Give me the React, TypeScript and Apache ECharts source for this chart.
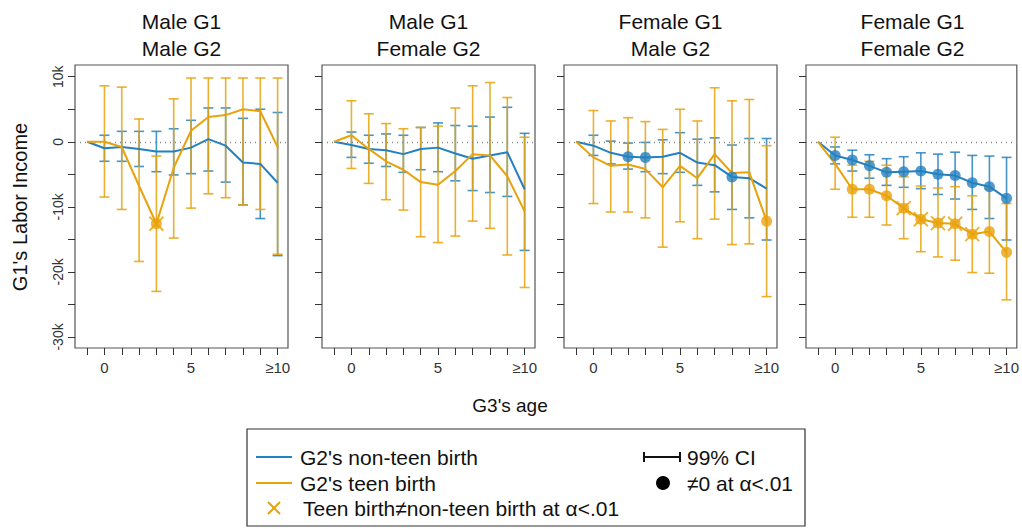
import { useEffect, useRef } from 'react';
import * as echarts from 'echarts';

const BLUE = '#2481c1';
const ORANGE = '#e8a20c';
const FONT = 'Liberation Sans, Arial, sans-serif';

const ages = [-1, 0, 1, 2, 3, 4, 5, 6, 7, 8, 9, 10];
const panelTitles = ['Male G1\nMale G2', 'Male G1\nFemale G2', 'Female G1\nMale G2', 'Female G1\nFemale G2'];

// values in thousands, index matches ages
const blueMean = [
  [0, -1.0, -0.8, -1.1, -1.5, -1.5, -0.9, 0.4, -0.6, -3.2, -3.4, -6.3],
  [0, -0.5, -1.1, -1.3, -1.9, -1.1, -0.9, -1.8, -2.6, -2.1, -1.6, -7.3],
  [0, -0.6, -1.7, -2.3, -2.4, -2.3, -1.7, -3.2, -3.6, -5.4, -5.6, -7.2],
  [0, -2.1, -2.8, -3.7, -4.7, -4.6, -4.5, -5.0, -5.2, -6.3, -6.9, -8.7],
];
const blueHi = [
  [0, 1.0, 1.6, 1.6, 1.6, 2.0, 3.3, 5.2, 5.2, 3.6, 5.0, 4.5],
  [0, 1.5, 1.0, 1.2, 1.0, 2.2, 2.9, 2.5, 2.4, 3.8, 5.3, 1.3],
  [0, 1.0, 0.1, -0.2, -0.1, 0.3, 1.4, 0.4, 0.6, -0.5, 0.5, 0.5],
  [0, -0.8, -1.3, -2.0, -2.6, -2.3, -1.7, -1.9, -1.6, -2.1, -2.2, -2.4],
];
const blueLo = [
  [0, -3.0, -3.0, -3.8, -4.6, -5.1, -4.9, -4.5, -6.2, -9.7, -11.8, -17.5],
  [0, -2.4, -3.3, -3.8, -4.7, -4.3, -4.6, -6.0, -7.5, -7.8, -8.4, -16.7],
  [0, -2.1, -3.4, -4.2, -4.6, -4.9, -4.7, -6.7, -7.7, -10.4, -11.7, -15.1],
  [0, -3.4, -4.5, -5.6, -6.7, -7.0, -7.2, -8.1, -8.8, -10.4, -11.8, -15.1],
];
// indices into ages
const blueSig = [
  [],
  [],
  [3, 4, 9],
  [1, 2, 3, 4, 5, 6, 7, 8, 9, 10, 11],
];

const orangeMean = [
  [0, 0, -0.8, -6.8, -12.6, -4.0, 1.7, 3.8, 4.1, 5.0, 4.7, -0.8],
  [0, 1.0, -1.1, -3.0, -4.3, -6.2, -6.6, -4.5, -1.9, -2.1, -5.3, -10.7],
  [0, -2.4, -3.7, -3.5, -4.2, -7.0, -3.7, -5.6, -1.9, -4.8, -4.7, -12.2],
  [0, -3.4, -7.3, -7.3, -8.3, -10.2, -11.9, -12.5, -12.6, -14.2, -13.8, -17.0],
];
const orangeHi = [
  [0, 8.6, 8.4, 3.5, -2.2, 6.6, 9.8, 9.8, 9.8, 9.8, 9.8, 9.8],
  [0, 6.3, 4.3, 2.8, 2.0, 2.2, 2.4, 5.2, 8.6, 9.1, 6.8, 0.7],
  [0, 4.8, 3.2, 3.7, 3.1, 1.9, 5.0, 3.2, 8.3, 6.3, 6.5, -0.6],
  [0, 0.7, -3.6, -3.0, -3.6, -5.4, -6.8, -7.1, -6.9, -8.3, -7.3, -9.5],
];
const orangeLo = [
  [0, -8.5, -10.4, -18.4, -23.0, -14.8, -10.2, -8.0, -8.6, -9.7, -10.4, -17.3],
  [0, -4.1, -6.4, -8.9, -10.5, -14.6, -15.5, -14.5, -12.2, -13.3, -17.4, -22.4],
  [0, -9.5, -10.8, -10.8, -11.7, -16.2, -12.3, -14.9, -11.9, -15.8, -15.7, -23.8],
  [0, -7.3, -11.6, -11.6, -12.8, -14.9, -16.9, -17.7, -18.2, -20.1, -20.2, -24.3],
];
const orangeSig = [
  [4],
  [],
  [11],
  [2, 3, 4, 5, 6, 7, 8, 9, 10, 11],
];
const diffSig = [[4], [], [], [5, 6, 7, 8, 9]];

const xLabels = [0, 5, 10];
const yTicks = [-30, -25, -20, -15, -10, -5, 0, 5, 10];
const yLabels = [-30, -20, -10, 0, 10];

const gridLefts = [75, 322, 564, 806];
const gridWidth = 213;
const gridTop = 65;
const gridHeight = 283;

const xMark = 'path://M0,0L10,10M10,0L0,10';

export default function App() {
  const ref = useRef<HTMLDivElement>(null);

  useEffect(() => {
    if (!ref.current) return;
    const chart = echarts.init(ref.current, null, { renderer: 'svg' });

    const errorBars = (lo: number[], hi: number[], color: string, gi: number, z: number) => ({
      type: 'custom',
      xAxisIndex: gi,
      yAxisIndex: gi,
      z,
      data: ages.map((a, i) => [a, lo[i], hi[i]]).filter((_, i) => i > 0),
      renderItem: (_p: any, api: any) => {
        const x = api.value(0);
        const top = api.coord([x, api.value(2)]);
        const bot = api.coord([x, api.value(1)]);
        const w = 5;
        const style = { stroke: color, lineWidth: 1.6, opacity: 0.85 };
        return {
          type: 'group',
          children: [
            { type: 'line', shape: { x1: top[0], y1: top[1], x2: bot[0], y2: bot[1] }, style },
            { type: 'line', shape: { x1: top[0] - w, y1: top[1], x2: top[0] + w, y2: top[1] }, style },
            { type: 'line', shape: { x1: bot[0] - w, y1: bot[1], x2: bot[0] + w, y2: bot[1] }, style },
          ],
        };
      },
    });

    const grids: any[] = [];
    const xAxes: any[] = [];
    const yAxes: any[] = [];
    const series: any[] = [];
    const graphics: any[] = [];

    gridLefts.forEach((left, gi) => {
      grids.push({
        left, top: gridTop, width: gridWidth, height: gridHeight,
        show: true, borderColor: '#555', borderWidth: 1.2, backgroundColor: '#fff',
      });
      xAxes.push({
        type: 'value', gridIndex: gi, min: -1.7, max: 10.6,
        axisLine: { show: false, onZero: false },
        splitLine: { show: false },
        axisTick: { show: true, customValues: ages, length: 7, lineStyle: { color: '#333' } },
        axisLabel: {
          customValues: xLabels, color: '#333', fontSize: 15, fontFamily: FONT, margin: 12,
          formatter: (v: number) => (v === 10 ? '≥10' : String(v)),
        },
      });
      yAxes.push({
        type: 'value', gridIndex: gi, min: -31.7, max: 11.8,
        axisLine: { show: false, onZero: false },
        splitLine: { show: false },
        axisTick: { show: true, customValues: yTicks, length: 7, lineStyle: { color: '#333' } },
        axisLabel: {
          show: gi === 0, customValues: yLabels, rotate: 90, color: '#333', fontSize: 14,
          fontFamily: FONT, margin: 10,
          formatter: (v: number) => (v === 0 ? '0' : v + 'k'),
        },
      });

      series.push(errorBars(blueLo[gi], blueHi[gi], BLUE, gi, 2));
      series.push(errorBars(orangeLo[gi], orangeHi[gi], ORANGE, gi, 3));
      series.push({
        type: 'line', xAxisIndex: gi, yAxisIndex: gi, z: 4,
        data: ages.map((a, i) => [a, blueMean[gi][i]]),
        showSymbol: false, lineStyle: { color: BLUE, width: 2 },
        markLine: {
          silent: true, symbol: 'none', label: { show: false },
          lineStyle: { color: '#888', type: [1, 4], width: 1.3 },
          data: [{ yAxis: 0 }],
        },
      });
      series.push({
        type: 'line', xAxisIndex: gi, yAxisIndex: gi, z: 5,
        data: ages.map((a, i) => [a, orangeMean[gi][i]]),
        showSymbol: false, lineStyle: { color: ORANGE, width: 2 },
      });
      series.push({
        type: 'scatter', xAxisIndex: gi, yAxisIndex: gi, z: 6, symbolSize: 11,
        data: blueSig[gi].map((i) => [ages[i], blueMean[gi][i]]),
        itemStyle: { color: BLUE },
      });
      series.push({
        type: 'scatter', xAxisIndex: gi, yAxisIndex: gi, z: 6, symbolSize: 11,
        data: orangeSig[gi].map((i) => [ages[i], orangeMean[gi][i]]),
        itemStyle: { color: ORANGE },
      });
      series.push({
        type: 'scatter', xAxisIndex: gi, yAxisIndex: gi, z: 7, symbol: xMark, symbolSize: 14,
        data: diffSig[gi].map((i) => [ages[i], orangeMean[gi][i]]),
        itemStyle: { color: 'none', borderColor: ORANGE, borderWidth: 2 },
      });

      const lines = panelTitles[gi].split('\n');
      lines.forEach((t, li) => {
        graphics.push({
          type: 'text', x: left + gridWidth / 2, y: 21 + li * 27,
          style: { text: t, align: 'center', verticalAlign: 'middle', fill: '#111', font: `21px ${FONT}` },
        });
      });
    });

    const txt = (x: number, y: number, text: string) => ({
      type: 'text', x, y,
      style: { text, fill: '#111', font: `21px ${FONT}`, verticalAlign: 'middle' },
    });

    graphics.push(
      {
        type: 'text', x: 20, y: 207, rotation: Math.PI / 2,
        style: { text: "G1's Labor Income", fill: '#111', font: `20px ${FONT}`, align: 'center', verticalAlign: 'middle' },
      },
      {
        type: 'text', x: 510, y: 405,
        style: { text: "G3's age", fill: '#111', font: `19px ${FONT}`, align: 'center', verticalAlign: 'middle' },
      },
      { type: 'rect', shape: { x: 247, y: 429, width: 558, height: 97 }, style: { fill: 'none', stroke: '#333', lineWidth: 1.2 } },
      { type: 'line', shape: { x1: 256, y1: 457, x2: 292, y2: 457 }, style: { stroke: BLUE, lineWidth: 2 } },
      txt(300, 457, "G2's non-teen birth"),
      { type: 'line', shape: { x1: 256, y1: 483, x2: 292, y2: 483 }, style: { stroke: ORANGE, lineWidth: 2 } },
      txt(300, 483, "G2's teen birth"),
      { type: 'line', shape: { x1: 268, y1: 502, x2: 280, y2: 514 }, style: { stroke: ORANGE, lineWidth: 2 } },
      { type: 'line', shape: { x1: 280, y1: 502, x2: 268, y2: 514 }, style: { stroke: ORANGE, lineWidth: 2 } },
      txt(303, 508, 'Teen birth≠non-teen birth at α<.01'),
      { type: 'line', shape: { x1: 644, y1: 457, x2: 680, y2: 457 }, style: { stroke: '#111', lineWidth: 2 } },
      { type: 'line', shape: { x1: 644, y1: 452, x2: 644, y2: 462 }, style: { stroke: '#111', lineWidth: 2 } },
      { type: 'line', shape: { x1: 680, y1: 452, x2: 680, y2: 462 }, style: { stroke: '#111', lineWidth: 2 } },
      txt(687, 457, '99% CI'),
      { type: 'circle', shape: { cx: 663, cy: 483, r: 7 }, style: { fill: '#000' } },
      txt(687, 483, '≠0 at α<.01'),
    );

    chart.setOption({
      animation: false,
      backgroundColor: '#fff',
      grid: grids,
      xAxis: xAxes,
      yAxis: yAxes,
      series,
      graphic: graphics,
    });

    return () => chart.dispose();
  }, []);

  return <div ref={ref} style={{ position: 'fixed', left: 0, top: 0, width: 1022, height: 529 }} />;
}
